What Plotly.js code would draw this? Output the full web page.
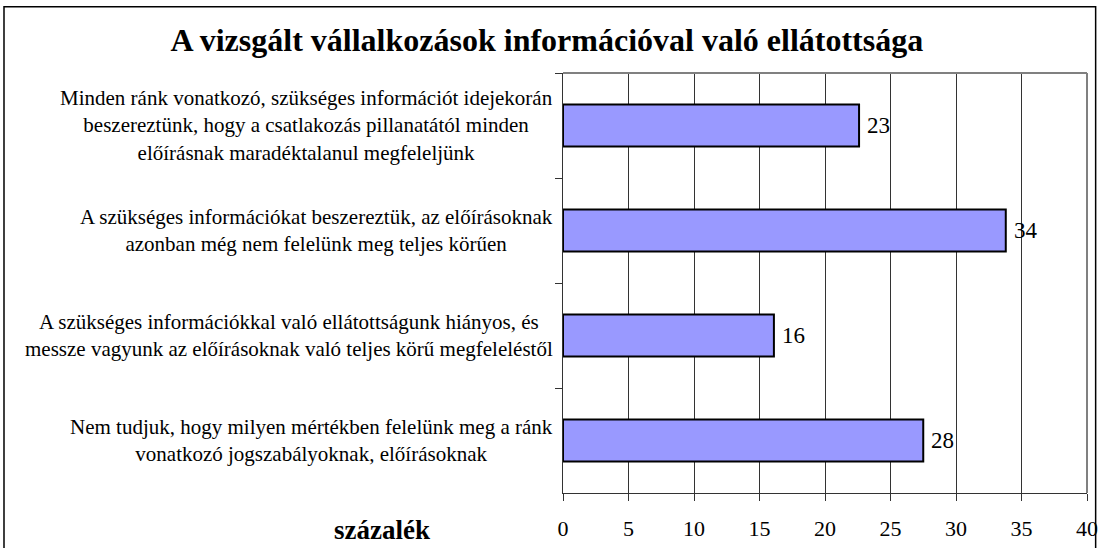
<!DOCTYPE html>
<html>
<head>
<meta charset="utf-8">
<script src="https://cdn.plot.ly/plotly-3.0.1.min.js"></script>
<style>
html,body{margin:0;padding:0;background:#fff;}
#chart{width:1098px;height:548px;}
</style>
</head>
<body>
<div id="chart"></div>
<script>
var categories = [
  "Minden ránk vonatkozó, szükséges információt idejekorán<br>beszereztünk, hogy a csatlakozás pillanatától minden<br>előírásnak maradéktalanul megfeleljünk",
  "A szükséges információkat beszereztük, az előírásoknak<br>azonban még nem felelünk meg teljes körűen",
  "A szükséges információkkal való ellátottságunk hiányos, és<br>messze vagyunk az előírásoknak való teljes körű megfeleléstől",
  "Nem tudjuk, hogy milyen mértékben felelünk meg a ránk<br>vonatkozó jogszabályoknak, előírásoknak"
];
var values = [22.6, 33.8, 16.1, 27.5];
var valueLabels = ["23", "34", "16", "28"];
var xTickVals = [0, 5, 10, 15, 20, 25, 30, 35, 40];
var titleText = "A vizsgált vállalkozások információval való ellátottsága";
var xAxisLabel = "százalék";

var FONT = "'Liberation Serif', 'Times New Roman', Times, serif";

var trace = {
  type: "bar",
  orientation: "h",
  x: values,
  y: categories,
  width: 0.4,
  marker: {color: "#9999FF", line: {color: "#000000", width: 2}},
  hoverinfo: "skip"
};

var annotations = [];
categories.forEach(function (c) {
  annotations.push({
    xref: "paper", yref: "y", x: -0.016, y: c,
    xanchor: "right", yanchor: "middle", align: "center",
    text: c, showarrow: false,
    font: {family: FONT, size: 21, color: "#000"}
  });
});
values.forEach(function (v, i) {
  annotations.push({
    xref: "x", yref: "y", x: v, y: categories[i],
    xanchor: "left", yanchor: "middle", xshift: 6,
    text: valueLabels[i], showarrow: false,
    font: {family: FONT, size: 23, color: "#000"}
  });
});
annotations.push({
  xref: "paper", yref: "paper", x: -0.345, y: -0.088,
  xanchor: "center", yanchor: "middle",
  text: "<b>" + xAxisLabel + "</b>", showarrow: false,
  font: {family: FONT, size: 27, color: "#000"}
});

var layout = {
  width: 1098, height: 548,
  margin: {l: 563, r: 11, t: 73, b: 55, pad: 0},
  paper_bgcolor: "#ffffff",
  plot_bgcolor: "#ffffff",
  showlegend: false,
  font: {family: FONT, color: "#000"},
  title: {
    text: "<b>" + titleText + "</b>",
    font: {family: FONT, size: 32, color: "#000"},
    x: 0.498, xanchor: "center", xref: "container",
    y: 0.927, yanchor: "middle", yref: "container"
  },
  xaxis: {
    range: [0, 40],
    tickvals: xTickVals,
    ticktext: xTickVals.map(String),
    ticks: "outside", ticklen: 7, tickcolor: "#333", tickwidth: 1,
    ticklabelstandoff: 9,
    showgrid: true, gridcolor: "#333333", gridwidth: 1,
    showline: true, linecolor: "#333", linewidth: 1,
    zeroline: false,
    tickfont: {family: FONT, size: 22, color: "#000"},
    fixedrange: true
  },
  yaxis: {
    type: "category",
    autorange: "reversed",
    showticklabels: false,
    ticks: "outside", ticklen: 7, tickcolor: "#333", tickwidth: 1,
    tickson: "boundaries",
    showgrid: false,
    showline: true, linecolor: "#333", linewidth: 1,
    zeroline: false,
    fixedrange: true
  },
  annotations: annotations,
  shapes: [
    {type: "line", xref: "paper", yref: "paper", x0: 0, x1: 1, y0: 1, y1: 1,
     line: {color: "#808080", width: 2}},
    {type: "line", xref: "paper", yref: "paper", x0: 1, x1: 1, y0: 0, y1: 1,
     line: {color: "#808080", width: 2}},
    {type: "rect", xref: "paper", yref: "paper",
     x0: -1.0668, x1: 1.0165, y0: -0.2, y1: 1.158,
     line: {color: "#000", width: 1.5}, fillcolor: "rgba(0,0,0,0)"}
  ]
};

Plotly.newPlot("chart", [trace], layout, {displayModeBar: false, staticPlot: true});
</script>
</body>
</html>
